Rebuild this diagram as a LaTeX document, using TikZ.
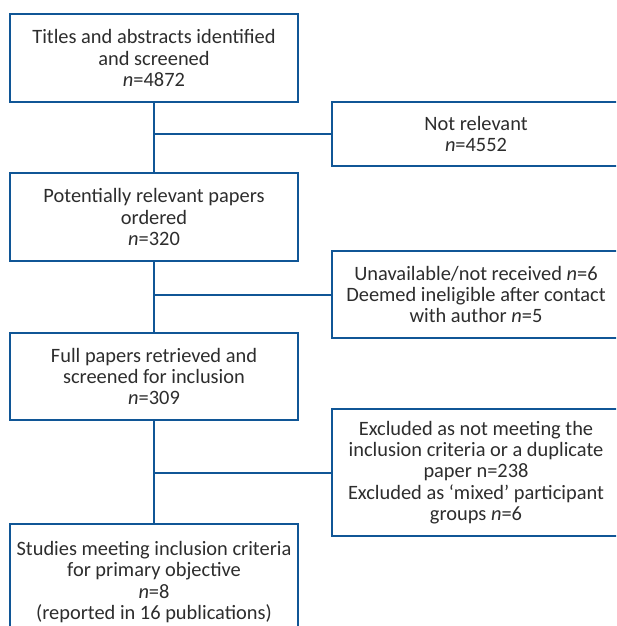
\documentclass[tikz,border=0pt]{standalone}
\usepackage{fontspec}
\setmainfont{Carlito}
\usepackage{tikz}
\definecolor{boxblue}{RGB}{16,86,150}
\definecolor{textgrey}{RGB}{45,45,45}

\begin{document}
\begin{tikzpicture}[x=0.5pt, y=-0.5pt,
  box/.style={draw=boxblue, line width=1pt, fill=white, text=textgrey,
    align=center, minimum width=144pt, inner sep=0pt,
    font=\fontsize{10.2}{10.6}\selectfont},
  link/.style={draw=boxblue, line width=1pt}]

\useasboundingbox (0,0) rectangle (616,626);
\clip (0,0) rectangle (616,626);

\node[box, minimum height=44pt] (titles) at (154,58)
  {Titles and abstracts identified\\ and screened\\ \textit{n}=4872};
\node[box, minimum height=32pt] (notrel) at (476,134)
  {Not relevant\\ \textit{n}=4552};

\node[box, minimum height=44pt] (ordered) at (154,217)
  {Potentially relevant papers\\ ordered\\ \textit{n}=320};
\node[box, minimum height=43.5pt] (unavail) at (476,294.5)
  {Unavailable/not received \textit{n}=6\\ Deemed ineligible after contact\\ with author \textit{n}=5};

\node[box, minimum height=43.5pt] (fullpap) at (154,376.5)
  {Full papers retrieved and\\ screened for inclusion\\ \textit{n}=309};
\node[box, minimum height=63.5pt] (excl) at (476,472.5)
  {Excluded as not meeting the\\ inclusion criteria or a duplicate\\ paper n=238\\ Excluded as ‘mixed’ participant\\ groups \textit{n}=6};

\node[box, minimum height=58pt] (final) at (154,582)
  {Studies meeting inclusion criteria\\ for primary objective\\ \textit{n}=8\\ (reported in 16 publications)};

% trunk
\draw[link] (titles.south) -- (ordered.north);
\draw[link] (ordered.south) -- (fullpap.north);
\draw[link] (fullpap.south) -- (final.north);

% branches
\draw[link] (titles.south |- notrel.west) -- (notrel.west);
\draw[link] (ordered.south |- unavail.west) -- (unavail.west);
\draw[link] (fullpap.south |- excl.west) -- (excl.west);

\end{tikzpicture}
\end{document}
